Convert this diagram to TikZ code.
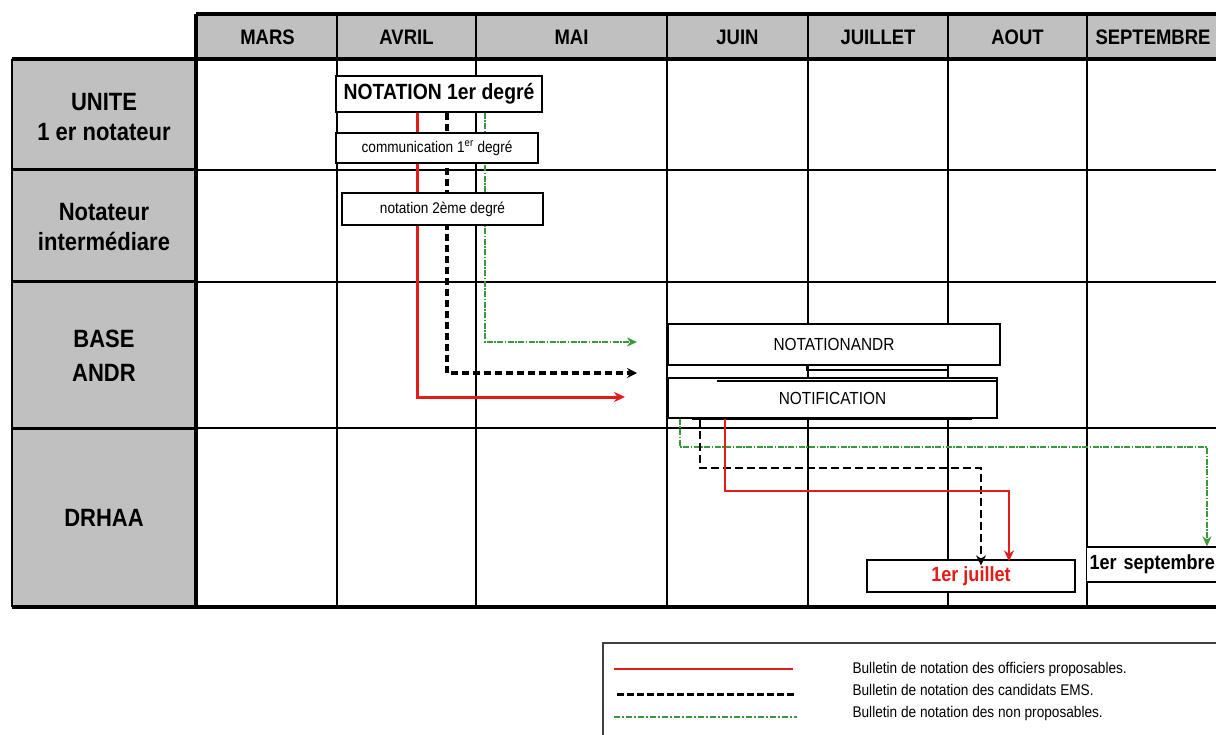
\documentclass[tikz,border=0pt]{standalone}
\usepackage{fontspec}
\setmainfont[FakeStretch=0.88]{Liberation Sans}
\usetikzlibrary{arrows.meta,positioning}
\definecolor{cellgray}{HTML}{C0C0C0}
\definecolor{prored}{HTML}{E41B17}
\definecolor{nongreen}{HTML}{3A9A3A}

\begin{document}
\begin{tikzpicture}[x=1pt, y=-1pt,
  every node/.style={font=\fontsize{15.5}{17}\selectfont},
  month/.style={font=\bfseries\fontsize{21}{23}\selectfont},
  who/.style={align=center, font=\bfseries\fontsize{25}{30}\selectfont},
  box/.style={draw, fill=white, line width=1.3pt, inner sep=0pt},
  grid/.style={line width=1.3pt},
  heavy/.style={line width=4pt},
  proline/.style={draw=prored, line width=3pt, -{Stealth[length=11pt,width=10pt]}},
  emsline/.style={line width=3.5pt, dash pattern=on 7pt off 4pt, -{Stealth[length=10pt,width=10pt]}},
  nonline/.style={draw=nongreen, line width=2.3pt, dash pattern=on 6pt off 1.5pt on 1.5pt off 1.5pt, -{Stealth[length=10pt,width=9pt]}}]
\useasboundingbox (0,0) rectangle (1216,735);
\fill[cellgray] (196,14) rectangle (1220,59);
\fill[cellgray] (12,59) rectangle (196,607);
\foreach \x in {337,476,667,808,948,1087}
  \draw[grid] (\x,14) -- (\x,607);
\foreach \y in {170,282,428} {
  \draw[grid] (196,\y) -- (1220,\y);
  \draw[line width=3pt] (12,\y) -- (196,\y);
}
\draw[heavy] (196,14) -- (1220,14);
\draw[heavy] (12,59) -- (1220,59);
\draw[heavy] (12,607) -- (1220,607);
\draw[heavy] (196,14) -- (196,607);
\draw[line width=2.5pt] (12,59) -- (12,607);

\foreach \m/\x in {MARS/267.5, AVRIL/406.5, MAI/571.5, JUIN/737.5, JUILLET/878, AOUT/1017.5, SEPTEMBRE/1153}
  \node[month] (m-\m) at (\x,37) {\m};

\node[who] (unite) at (104,117) {UNITE\\1 er notateur};
\node[who] (inter) at (104,227.5) {Notateur\\intermédiare};
\node[who] (andr) at (104,355.5) {BASE\\[4pt]ANDR};
\node[who] (drhaa) at (104,518) {DRHAA};

\node[box, minimum width=206, minimum height=36, font=\bfseries\fontsize{22}{24}\selectfont] (nota1) at (439,94) {NOTATION 1er degré};
\coordinate (proend) at (625,397);
\coordinate (emsend) at (637,373);
\coordinate (nonend) at (637,342);
\draw[proline] ([xshift=-22]nota1.south) |- (proend);
\draw[emsline] ([xshift=8]nota1.south) |- (emsend);
\draw[nonline] ([xshift=46]nota1.south) |- (nonend);
\node[box, minimum width=202, minimum height=30] (comm) at (437,148) {communication 1\textsuperscript{er} degré};
\node[box, minimum width=201, minimum height=32] (nota2) at (442.5,209) {notation 2ème degré};

\draw[grid] (807,325) rectangle (948,370);
\node[box, minimum width=332, minimum height=41, font=\fontsize{17.5}{19}\selectfont] (notandr) at (834,344.5) {NOTATIONANDR};
\node[box, minimum width=329, minimum height=40, font=\fontsize{17.5}{19}\selectfont] (notif) at (832.5,398) {NOTIFICATION};
\draw[line width=2.5pt] (717,381) -- (997,381);
\draw[line width=2.5pt] (692,419) -- (972,419);

\node[box, minimum width=208, minimum height=32, text=prored, font=\bfseries\fontsize{20.5}{22}\selectfont] (juil) at (971,576) {1er juillet};
\node[box, anchor=west, minimum height=35, text width=150, align=left, inner xsep=3, font=\bfseries\fontsize{20.5}{22}\selectfont] (sept) at (1086,564.5) {1er septembre};

\draw[nonline, line width=2pt] ([xshift=-152.5]notif.south) |- (1207,447) -- (sept.north -| 1207,0);
\draw[emsline, line width=2.5pt, dash pattern=on 8pt off 4pt] ([xshift=-132.5]notif.south) |- (981,468) -- ([yshift=-6]juil.north -| 981,0);
\draw[proline, line width=2.5pt] ([xshift=-107.5]notif.south) |- (1009,491) -- ([yshift=-2]juil.north -| 1009,0);

\draw[line width=1.5pt, draw=black!75] (603,760) |- (1230,643);
\draw[prored, line width=1.2pt] (614,669) -- (793,669);
\draw[line width=3pt, dash pattern=on 7pt off 3pt] (617,694) -- (797,694);
\draw[nongreen, line width=1.2pt, dash pattern=on 6pt off 2pt on 2pt off 2pt] (614,717) -- (797,717);
\node[anchor=west] (leg1) at (849,669) {Bulletin de notation des officiers proposables.};
\node[anchor=west] (leg2) at (849,690) {Bulletin de notation des candidats EMS.};
\node[anchor=west] (leg3) at (849,713) {Bulletin de notation des non proposables.};
\end{tikzpicture}
\end{document}
